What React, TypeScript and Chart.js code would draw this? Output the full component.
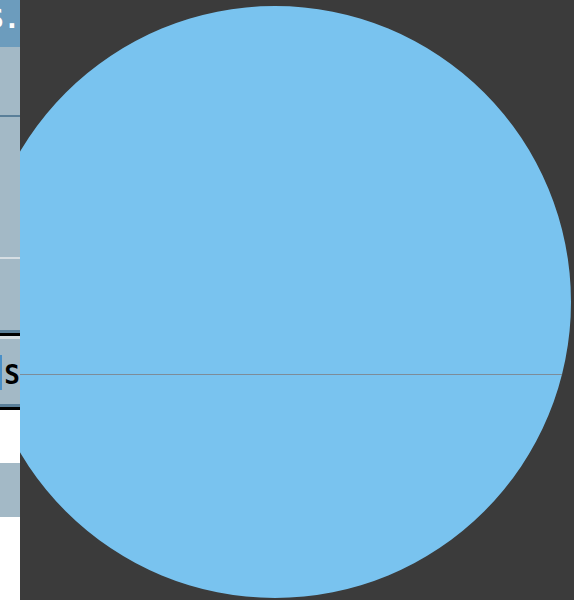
import React, { useEffect, useRef } from "react";
import { Chart, registerables } from "chart.js";

Chart.register(...registerables);

const categories: string[] = ["Share"];
const values: number[] = [100];
const sliceColors: string[] = ["#79c3ef"];
const chordValue: number = 0.243; // relative position of the reference line below the centre

const chordPlugin = {
  id: "chordLine",
  afterDatasetsDraw(chart: any) {
    const meta = chart.getDatasetMeta(0);
    const arc = meta.data[0];
    if (!arc) return;
    const { x, y, outerRadius } = arc.getProps(["x", "y", "outerRadius"], true);
    const dy = chordValue * outerRadius;
    const half = Math.sqrt(outerRadius * outerRadius - dy * dy);
    const ctx = chart.ctx;
    ctx.save();
    ctx.strokeStyle = "#7d8c98";
    ctx.lineWidth = 1;
    ctx.beginPath();
    ctx.moveTo(x - half, Math.round(y + dy) + 0.5);
    ctx.lineTo(x + half, Math.round(y + dy) + 0.5);
    ctx.stroke();
    ctx.restore();
  },
};

export default function App() {
  const ref = useRef<HTMLCanvasElement | null>(null);

  useEffect(() => {
    document.body.style.margin = "0";
    const chart = new Chart(ref.current as HTMLCanvasElement, {
      type: "pie",
      data: {
        labels: categories,
        datasets: [
          {
            data: values,
            backgroundColor: sliceColors,
            borderWidth: 0,
          },
        ],
      },
      options: {
        responsive: false,
        animation: false,
        layout: { padding: 0 },
        plugins: {
          legend: { display: false },
          tooltip: { enabled: false },
        },
      },
      plugins: [chordPlugin],
    });
    return () => chart.destroy();
  }, []);

  const strip = (top: number, height: number, color: string) => (
    <div style={{ position: "absolute", left: 0, top, width: 20, height, background: color }} />
  );

  return (
    <div style={{ position: "fixed", left: 0, top: 0, width: 574, height: 600, overflow: "hidden", background: "#3b3b3b" }}>
      <canvas
        ref={ref}
        width={592}
        height={592}
        style={{ position: "absolute", left: -21, top: 6, width: 592, height: 592 }}
      />
      <div style={{ position: "absolute", left: 0, top: 0, width: 20, height: 600, background: "#ffffff", zIndex: 2 }}>
        {strip(0, 47, "#6c9cbd")}
        {strip(47, 283, "#a3b9c6")}
        {strip(115, 2, "#5a7f99")}
        {strip(257, 2, "#d6dee3")}
        {strip(330, 3, "#5a7f99")}
        {strip(333, 3, "#000000")}
        {strip(336, 3, "#d6dee3")}
        {strip(339, 65, "#a3b9c6")}
        {strip(404, 3, "#5a7f99")}
        {strip(407, 3, "#000000")}
        {strip(463, 54, "#a3b9c6")}
        <div style={{ position: "absolute", left: 0, top: 355, width: 2, height: 35, background: "#4a90c8" }} />
        <div
          style={{
            position: "absolute",
            right: 0,
            top: 1,
            width: 20,
            height: 36,
            overflow: "hidden",
            display: "flex",
            justifyContent: "flex-end",
            whiteSpace: "nowrap",
            fontFamily: "'DejaVu Sans Mono', monospace",
            fontWeight: "bold",
            fontSize: 27,
            lineHeight: "36px",
            color: "#ffffff",
          }}
        >
          S.
        </div>
        <div
          style={{
            position: "absolute",
            left: 2,
            top: 358,
            width: 18,
            height: 34,
            overflow: "hidden",
            display: "flex",
            justifyContent: "flex-end",
            whiteSpace: "nowrap",
            fontFamily: "'DejaVu Sans Mono', monospace",
            fontWeight: "bold",
            fontSize: 26,
            lineHeight: "34px",
            color: "#000000",
          }}
        >
          S
        </div>
      </div>
    </div>
  );
}
